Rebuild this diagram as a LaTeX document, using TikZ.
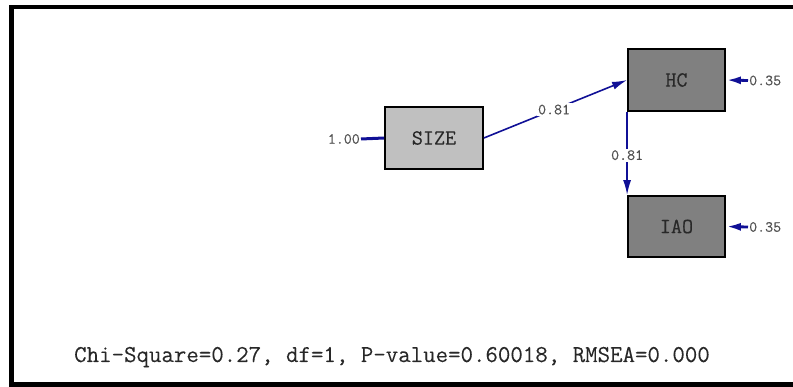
\documentclass[tikz,border=0pt]{standalone}
\usepackage{fontspec}
\usetikzlibrary{arrows.meta}
\newfontfamily\labelfont[FakeBold=0.3]{Latin Modern Mono}
\newfontfamily\coeffont[FakeBold=0.4]{Latin Modern Mono}
\newfontfamily\fitfont[FakeBold=0.1]{Latin Modern Mono}
\definecolor{pathblue}{RGB}{16,16,150}
\definecolor{obsgray}{RGB}{128,128,128}
\definecolor{exogray}{RGB}{192,192,192}
\definecolor{inkgray}{RGB}{40,40,40}
\definecolor{coefgray}{RGB}{80,80,80}
\tikzset{
  varbox/.style={draw=black, line width=1.8pt, inner sep=0pt,
    text=inkgray, font=\labelfont\fontsize{21.5}{24}\selectfont},
  coef/.style={text=coefgray, inner sep=1pt,
    font=\coeffont\fontsize{15.5}{17}\selectfont},
  pathlabel/.style={coef, fill=white, inner sep=1.5pt},
  path/.style={draw=pathblue, line width=1.6pt,
    -{Latex[length=15pt,width=8pt]}},
  errpath/.style={draw=pathblue, line width=2.8pt,
    -{Latex[length=15pt,width=8pt]}},
  fixedvar/.style={draw=pathblue, line width=3pt},
}
\begin{document}
\begin{tikzpicture}[x=1pt,y=-1pt]
\useasboundingbox (0,0) rectangle (793,387);
\clip (0,0) rectangle (793,387);
% outer frame, open on the right
\draw[line width=4.7pt] (11.7,7) rectangle (820,384.5);

% variables
\node[varbox, fill=exogray, minimum width=98pt, minimum height=62pt] (size) at (434,138) {SIZE};
\node[varbox, fill=obsgray, minimum width=97pt, minimum height=62pt] (hc) at (676.5,80) {HC};
\node[varbox, fill=obsgray, minimum width=97pt, minimum height=61pt] (iao) at (676.5,226.5) {IAO};

% variance of SIZE
\node[coef, anchor=east] (vsize) at (361,139) {1.00};
\draw[fixedvar] (vsize.east) -- (size.west);

% error variances
\node[coef, anchor=west] (ehc) at (748,80.5) {0.35};
\draw[errpath] (ehc.west) -- (hc.east);
\node[coef, anchor=west] (eiao) at (748,227) {0.35};
\draw[errpath] (eiao.west) -- (iao.east);

% structural paths
\draw[path] (size.east) -- node[pathlabel, pos=0.49] (p1) {0.81} (hc.west);
\draw[path] (hc.south west) -- node[pathlabel, pos=0.52] (p2) {0.81} (iao.north west);

% fit statistics
\node[text=inkgray, inner sep=0pt, anchor=base,
  font=\fitfont\fontsize{24.2}{27}\selectfont] (fit) at (392,362)
  {Chi-Square=0.27, df=1, P-value=0.60018, RMSEA=0.000};
\end{tikzpicture}
\end{document}
